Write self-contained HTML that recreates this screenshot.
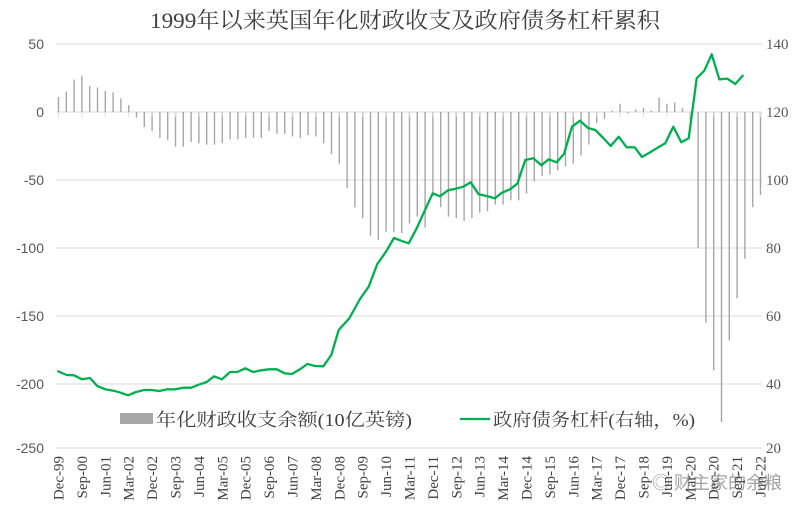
<!DOCTYPE html>
<html><head><meta charset="utf-8">
<style>
html,body{margin:0;padding:0;background:#fff;}
svg{display:block;}
</style></head>
<body>
<svg id="c" width="810" height="517" viewBox="0 0 810 517" xmlns="http://www.w3.org/2000/svg">
<text x="405" y="28" text-anchor="middle" font-family="'Liberation Serif','Noto Serif CJK SC',serif" font-size="22" fill="#404040" textLength="510" lengthAdjust="spacingAndGlyphs">1999年以来英国年化财政收支及政府债务杠杆累积</text>
<g stroke="#d9d9d9" stroke-width="1">
<line x1="56" x2="762" y1="44" y2="44"/>
<line x1="56" x2="762" y1="112" y2="112"/>
<line x1="56" x2="762" y1="180" y2="180"/>
<line x1="56" x2="762" y1="248" y2="248"/>
<line x1="56" x2="762" y1="316" y2="316"/>
<line x1="56" x2="762" y1="384" y2="384"/>
<line x1="56" x2="762" y1="448" y2="448"/>
</g>
<g font-family="'Liberation Sans',sans-serif" font-size="14" fill="#595959" text-anchor="end">
<text x="44" y="49">50</text><text x="44" y="117">0</text><text x="44" y="185">-50</text>
<text x="44" y="253">-100</text><text x="44" y="321">-150</text><text x="44" y="389">-200</text><text x="44" y="453">-250</text>
</g>
<g font-family="'Liberation Serif',serif" font-size="15" fill="#595959">
<text x="766" y="49">140</text><text x="766" y="117">120</text><text x="766" y="185">100</text>
<text x="766" y="253">80</text><text x="766" y="321">60</text><text x="766" y="389">40</text><text x="766" y="453">20</text>
</g>
<g id="bars" stroke="#a6a6a6" stroke-width="1.4"></g>
<g id="ticks" stroke="#d9d9d9" stroke-width="1"></g>
<polyline id="ln" fill="none" stroke="#00b050" stroke-width="2.3" stroke-linejoin="round" points="57.3,371 66.7,375 74,375.3 82,379.3 90,378 97.3,386 105.3,389.3 113.3,390.7 120.7,392.7 128,395.3 136,392 144,390 151.3,390 159.3,391 167.3,389.3 175.3,389.3 183.3,387.7 191.3,387.7 198.7,384.7 206.7,382 214,376.3 222,379.3 230,372 237.3,372 245.3,368.3 253.3,372 261.3,370.3 268.7,369.3 276.7,369.3 284.7,373.3 292,374 300,369.3 307.3,364 315.3,366 323.3,366.3 331.3,355 338.7,330 349.3,318.3 360,299 368.7,286.7 377.3,264 386,251.7 394,238 401,240.7 408.7,243.3 416.7,228.3 424.7,210.7 432.7,193.3 440,196.3 448,190.3 456,188.7 463.3,186.7 470.7,182.3 478.7,194.3 486.7,196 494.7,198.3 502,192.7 510,189.3 517.3,183.7 525.3,160 533.3,158.3 541.3,165.3 548.7,159.3 556.7,162.3 564,154 572,126.7 580,120.7 588,128 595.3,130 603.3,138 610.7,146 618.7,136.7 626.7,147.3 634.7,147.3 642,157 650,152.4 657.5,147.8 665.3,143.3 673.3,126.7 681.3,142.3 688.7,138.3 696.7,78.3 704.3,70.7 711.7,54.3 719.3,79.3 727.3,78.7 735.3,84 743.3,75"/>
<rect x="120" y="413" width="33" height="11" fill="#a6a6a6"/>
<text x="156" y="426" font-family="'Liberation Serif','Noto Serif CJK SC',serif" font-size="18" fill="#404040" textLength="256" lengthAdjust="spacingAndGlyphs">年化财政收支余额(10亿英镑)</text>
<line x1="460" x2="490" y1="419" y2="419" stroke="#00b050" stroke-width="2.3"/>
<text x="493" y="426" font-family="'Liberation Serif','Noto Serif CJK SC',serif" font-size="18" fill="#404040" textLength="202" lengthAdjust="spacingAndGlyphs">政府债务杠杆(右轴，%)</text>
<g id="xl" font-family="'Liberation Serif',serif" font-size="15" fill="#404040"></g>
<text x="652" y="489" font-family="'Noto Sans CJK SC',sans-serif" font-size="18" fill="#555" opacity="0.55">◎ 财主家的余粮</text>
</svg>
<script>
var v=[11,15,24,26.5,19,18,15.5,14.5,10,5,-4,-11,-14,-19,-20.5,-25.5,-25.5,-22,-23,-24,-24,-23,-20,-20,-19,-19,-19,-14,-16,-16,-18,-19,
-17,-18,-23,-31,-38,-56,-70,-78,-91,-94,-88,-88,-89,-82,-77,-85,-62,-70,-77,-78,-80,-78,-74,-73,-68,-68,-65,-65,-60,-51,-47,-46,-43,-40,-38,-32,-24,-8,-5,1,6,-1,2,3,1,10.5,6,7,3,-6,-100,-155,-190,-228,-168,-137,-108,-70,-61];
var b="",t="",l="";
var labs=["Dec-99","Sep-00","Jun-01","Mar-02","Dec-02","Sep-03","Jun-04","Mar-05","Dec-05","Sep-06","Jun-07","Mar-08","Dec-08","Sep-09","Jun-10","Mar-11","Dec-11","Sep-12","Jun-13","Mar-14","Dec-14","Sep-15","Jun-16","Mar-17","Dec-17","Sep-18","Jun-19","Mar-20","Dec-20","Sep-21","Jun-22"];
for(var i=0;i<v.length;i++){var x=(58.5+7.8*i).toFixed(1);var y=112-v[i]*68/50;
b+='<line x1="'+x+'" x2="'+x+'" y1="112" y2="'+y.toFixed(1)+'"/>';
if(i%3==0){t+='<line x1="'+x+'" x2="'+x+'" y1="112" y2="117"/>';
var lx=(58.5+7.8*i+5).toFixed(1);l+='<text transform="translate('+lx+',456) rotate(-90)" text-anchor="end">'+labs[i/3]+'</text>';}}
document.getElementById("bars").innerHTML=b;
document.getElementById("ticks").innerHTML=t;
document.getElementById("xl").innerHTML=l;
</script>
</body></html>
